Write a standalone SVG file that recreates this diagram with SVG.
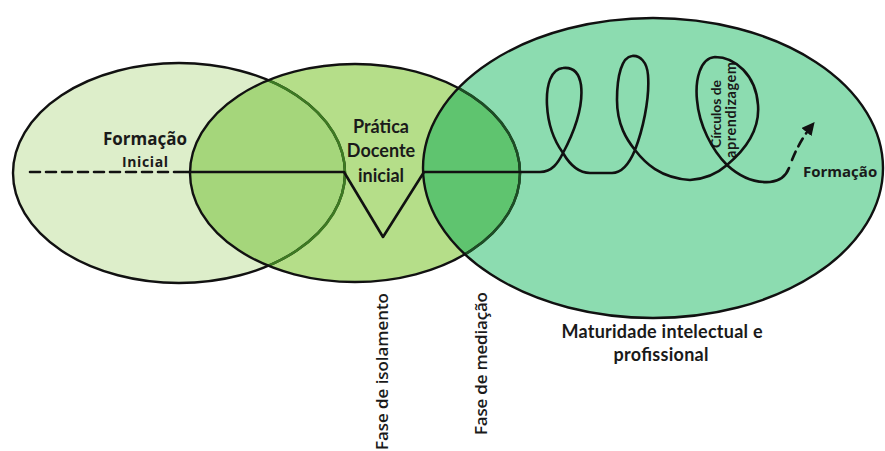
<svg xmlns="http://www.w3.org/2000/svg" width="885" height="451" viewBox="0 0 885 451">
<defs>
<style>
.lbl{font-family:"Open Sans","Liberation Sans",sans-serif;font-weight:700;fill:#1a1a1a}
.cal{font-family:Lato,"Open Sans","Liberation Sans",sans-serif;font-weight:700;fill:#1a1a1a}
.ph{font-family:"Open Sans","Liberation Sans",sans-serif;font-weight:600;fill:#1a1a1a;font-size:17px}
.edge{fill:none;stroke:#111;stroke-width:2.6;stroke-linejoin:round;stroke-linecap:round}
.ring{fill:none;stroke:#111;stroke-width:2.4}
</style>
<clipPath id="c1"><ellipse cx="179" cy="173" rx="166" ry="110"/></clipPath>
<clipPath id="c2"><ellipse cx="355" cy="173" rx="165" ry="109"/></clipPath>
<clipPath id="c3"><ellipse cx="653" cy="168" rx="230" ry="150"/></clipPath>
<marker id="ah" viewBox="0 0 10 10" refX="8" refY="5" markerWidth="5" markerHeight="5" orient="auto">
<path d="M0,0 L10,5 L0,10 z" fill="#111"/>
</marker>
</defs>
<rect width="885" height="451" fill="#fff"/>
<g id="fills">
<ellipse cx="179" cy="173" rx="166" ry="110" fill="#ddeeca"/>
<ellipse cx="355" cy="173" rx="165" ry="109" fill="#b5de89"/>
<ellipse cx="355" cy="173" rx="165" ry="109" fill="#a5d67b" clip-path="url(#c1)"/>
<ellipse cx="653" cy="168" rx="230" ry="150" fill="#8cdcb0"/>
<ellipse cx="653" cy="168" rx="230" ry="150" fill="#5fc46f" clip-path="url(#c2)"/>
</g>
<g id="formacao-inicial">
<ellipse class="ring" cx="179" cy="173" rx="166" ry="110"/>
<ellipse cx="179" cy="173" rx="166" ry="110" fill="none" stroke="#3d7a22" stroke-width="2.6" clip-path="url(#c2)"/>
<text class="lbl" x="145" y="145" font-size="17" text-anchor="middle">Formação</text>
<text class="lbl" x="145" y="167" font-size="14" text-anchor="middle" textLength="46">Inicial</text>
</g>
<g id="pratica-docente">
<ellipse class="ring" cx="355" cy="173" rx="165" ry="109"/>
<ellipse cx="355" cy="173" rx="165" ry="109" fill="none" stroke="#1d4d25" stroke-width="2.6" clip-path="url(#c3)"/>
<text class="cal" x="381" y="133" font-size="18" text-anchor="middle">Prática</text>
<text class="cal" x="381" y="157" font-size="18" text-anchor="middle">Docente</text>
<text class="cal" x="381" y="182" font-size="18" text-anchor="middle">inicial</text>
</g>
<g id="maturidade">
<ellipse class="ring" cx="653" cy="168" rx="230" ry="150"/>
<text class="cal" x="662" y="338" font-size="18" text-anchor="middle" textLength="201">Maturidade intelectual e</text>
<text class="cal" x="661" y="361" font-size="18" text-anchor="middle" textLength="95">profissional</text>
<text class="lbl" x="803" y="177" font-size="15">Formação</text>
<text class="cal" font-size="14" text-anchor="middle" textLength="68" transform="translate(721,114) rotate(-90)">Círculos de</text>
<text class="cal" font-size="14.5" text-anchor="middle" textLength="96" transform="translate(736,110) rotate(-90)">aprendizagem</text>
</g>
<g id="connectors">
<path class="edge" d="M30,172 L185,172" stroke-dasharray="10,6" stroke-linecap="butt"/>
<path class="edge" d="M185,172 L344,172 L383,237 L424,172 L540,172
C552,172 558,163 563,153 C572,136 584,110 581,85 C579,72 572,67 563,68 C551,69 546,85 547,105 C548,125 555,142 563,153 C570,165 578,173 590,173 L612,173
C622,173 630,162 635,150 C642,132 650,100 648,75 C647,62 640,55 632,56 C622,57 617,75 617,100 C617,125 627,140 635,150 C645,163 660,178 690,180
C705,179 718,173 727,165 C745,150 760,130 758,105 C756,75 735,57 715,57 C700,58 695,80 697,100 C699,125 712,150 727,165 C740,177 755,183 770,182 C780,181 786,176 789,168"/>
<path class="edge" d="M792,160 Q800,140 813,124" stroke-dasharray="9,6" stroke-linecap="butt" marker-end="url(#ah)"/>
</g>
<g id="phases">
<text class="ph" textLength="157" transform="translate(388,450) rotate(-90)">Fase de isolamento</text>
<text class="ph" textLength="143" transform="translate(487,435) rotate(-90)">Fase de mediação</text>
</g>
</svg>
